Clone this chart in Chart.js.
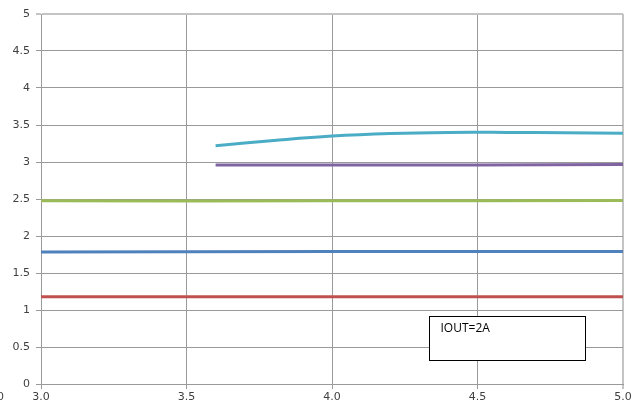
<!DOCTYPE html>
<html>
<head>
<meta charset="utf-8">
<script src="https://cdn.jsdelivr.net/npm/chart.js@4/dist/chart.umd.min.js"></script>
<style>
  html, body { margin: 0; padding: 0; background: #fff; }
  #wrap { width: 640px; height: 410px; position: relative; }
</style>
</head>
<body>
<div id="wrap"><canvas id="grafico"></canvas></div>
<script>
// valores
var xVermelho = [3.0, 5.0];
var yVermelho = [1.18, 1.18];
var xAzul = [3.0, 4.0, 5.0];
var yAzul = [1.785, 1.79, 1.79];
var xVerde = [3.0, 4.0, 5.0];
var yVerde = [2.475, 2.475, 2.48];
var xRoxo = [3.6, 4.0, 4.5, 5.0];
var yRoxo = [2.96, 2.96, 2.96, 2.965];
var xCiano = [3.6, 3.8, 4.0, 4.2, 4.4, 4.6, 4.8, 5.0];
var yCiano = [3.22, 3.29, 3.35, 3.385, 3.40, 3.40, 3.395, 3.39];
var yTicks = [0, 0.5, 1, 1.5, 2, 2.5, 3, 3.5, 4, 4.5, 5];
var xTicks = [3.0, 3.5, 4.0, 4.5, 5.0];
var textoCaixa = 'IOUT=2A';

function pontos(xs, ys) {
	return xs.map(function(x, i) { return { x: x, y: ys[i] }; });
}

function serie(xs, ys, cor) {
	return {
		data: pontos(xs, ys),
		borderColor: cor,
		borderWidth: 3,
		pointRadius: 0,
		tension: 0.4,
		fill: false
	};
}

// caixa de texto e o "0" cortado no canto
var extras = {
	id: 'extras',
	afterDraw: function(chart) {
		var ctx = chart.ctx;
		var sx = chart.scales.x, sy = chart.scales.y;
		var x1 = sx.getPixelForValue(4.335), x2 = sx.getPixelForValue(4.87);
		var y1 = sy.getPixelForValue(0.92), y2 = sy.getPixelForValue(0.325);
		ctx.save();
		ctx.fillStyle = '#fff';
		ctx.fillRect(x1, y1, x2 - x1, y2 - y1);
		ctx.strokeStyle = '#000';
		ctx.lineWidth = 1;
		ctx.strokeRect(Math.round(x1) + 0.5, Math.round(y1) + 0.5, Math.round(x2 - x1), Math.round(y2 - y1));
		ctx.fillStyle = '#000';
		ctx.font = '12px "Open Sans", sans-serif';
		ctx.textBaseline = 'top';
		ctx.fillText(textoCaixa, x1 + 11, y1 + 7);
		ctx.fillStyle = '#404040';
		ctx.font = '11px "DejaVu Sans", sans-serif';
		ctx.textBaseline = 'middle';
		ctx.fillText('0', -3, chart.chartArea.bottom + 13);
		ctx.restore();
	}
};

new Chart(document.getElementById('grafico').getContext('2d'), {
	type: 'line',
	data: {
		datasets: [
			serie(xVermelho, yVermelho, '#c0504d'),
			serie(xAzul, yAzul, '#4f81bd'),
			serie(xVerde, yVerde, '#9bbb59'),
			serie(xRoxo, yRoxo, '#8064a2'),
			serie(xCiano, yCiano, '#4bacc6')
		]
	},
	options: {
		responsive: true,
		maintainAspectRatio: false,
		animation: false,
		layout: { padding: { top: 14, right: 17, left: 0, bottom: 0 } },
		plugins: { legend: { display: false }, tooltip: { enabled: false } },
		scales: {
			x: {
				type: 'linear',
				min: 3, max: 5,
				afterBuildTicks: function(scale) {
					scale.ticks = xTicks.map(function(v) { return { value: v }; });
				},
				afterFit: function(scale) { scale.height = 26; },
				ticks: {
					color: '#404040',
					font: { family: 'DejaVu Sans', size: 11 },
					padding: 2,
					maxRotation: 0,
					callback: function(v) { return Number(v).toFixed(1); }
				},
				grid: {
					color: function(c) { return c.tick && c.tick.value === 5 ? '#c4c4c4' : '#9a9a9a'; },
					tickLength: 5,
					lineWidth: function(c) { return c.tick && c.tick.value === 5 ? 2 : 1; }
				},
				border: { color: '#9a9a9a' }
			},
			y: {
				min: 0, max: 5,
				afterBuildTicks: function(scale) {
					scale.ticks = yTicks.map(function(v) { return { value: v }; });
				},
				afterFit: function(scale) { scale.width = 41; },
				ticks: {
					color: '#404040',
					font: { family: 'DejaVu Sans', size: 11 },
					padding: 6,
					callback: function(v) { return String(v); }
				},
				grid: {
					color: function(c) { return c.tick && c.tick.value === 5 ? '#c4c4c4' : '#9a9a9a'; },
					tickLength: 5,
					lineWidth: function(c) { return c.tick && c.tick.value === 5 ? 2 : 1; }
				},
				border: { color: '#9a9a9a' }
			}
		}
	},
	plugins: [extras]
});
</script>
</body>
</html>
